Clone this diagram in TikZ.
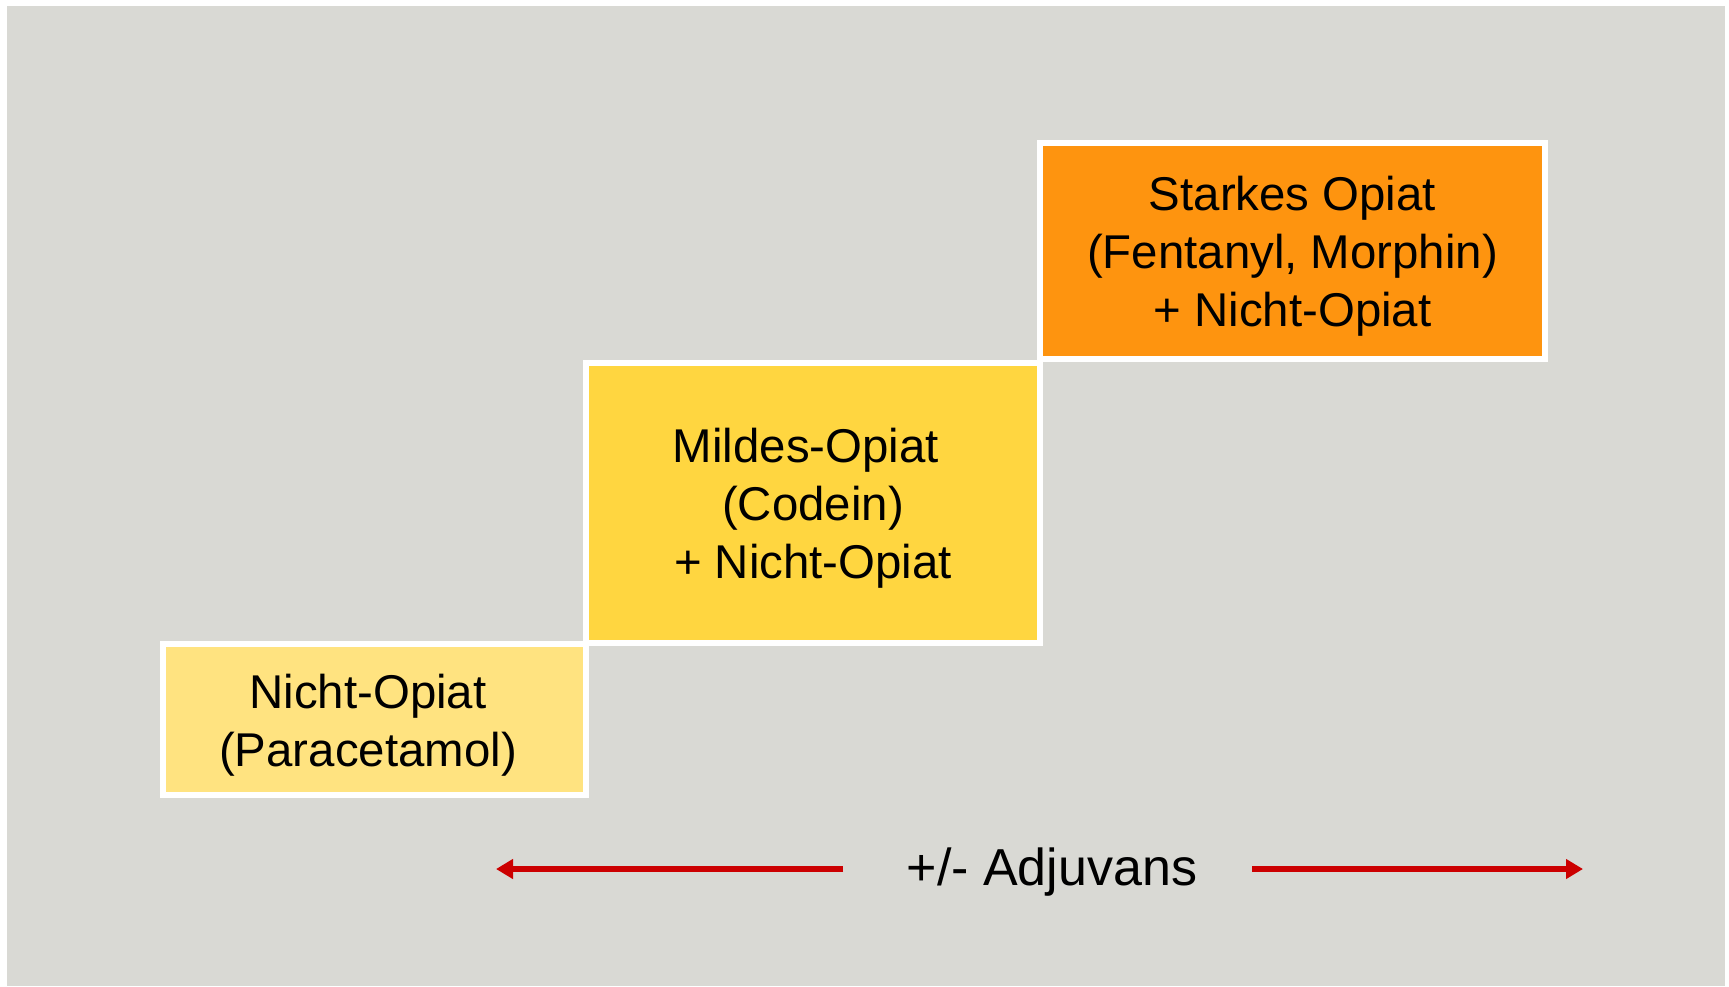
\documentclass[tikz,border=0pt]{standalone}
\usepackage{fontspec}
\setmainfont{Liberation Sans}
\usetikzlibrary{arrows.meta}
\definecolor{panel}{RGB}{217,217,212}
\definecolor{stepone}{RGB}{255,227,128}
\definecolor{steptwo}{RGB}{255,214,64}
\definecolor{stepthree}{RGB}{254,148,15}
\definecolor{arrowred}{RGB}{204,0,0}
\tikzset{
  stairbox/.style={draw=white, line width=6pt, inner sep=0pt},
  boxtext/.style={inner sep=0pt, align=center,
    font=\fontsize{47.4}{58}\selectfont, text=black},
  spanarrow/.style={draw=arrowred, line width=6pt,
    -{Triangle[length=17pt,width=19pt]}},
}
\begin{document}
\begin{tikzpicture}[x=1pt,y=-1pt]
  % canvas and grey panel
  \useasboundingbox (0,0) rectangle (1729,986);
  \fill[white] (0,0) rectangle (1729,986);
  \fill[panel] (7,6) rectangle (1725,986);

  % the three steps
  \node[stairbox, fill=stepone, minimum width=423pt, minimum height=151pt]
    (s1) at (374.5,719.5) {};
  \node[stairbox, fill=steptwo, minimum width=454pt, minimum height=280pt]
    (s2) at (813,503) {};
  \node[stairbox, fill=stepthree, minimum width=505pt, minimum height=216pt]
    (s3) at (1292.5,251) {};

  % step texts
  \node[boxtext] (t1) at ([shift={(-6.5,5.5)}]s1.center)
    {Nicht-Opiat\\(Paracetamol)};
  \node[boxtext] (t2) at ([shift={(0,5.5)}]s2.center)
    {Mildes-Opiat\hspace*{14pt}\\(Codein)\\+ Nicht-Opiat};
  \node[boxtext] (t3) at ([shift={(0,5.5)}]s3.center)
    {Starkes Opiat\\(Fentanyl, Morphin)\\+ Nicht-Opiat};

  % adjuvant label with arrows to both sides
  \node[anchor=base, font=\fontsize{52}{62}\selectfont, inner sep=0pt]
    (adj) at (1052,885) {+/- Adjuvans};
  \coordinate (lstart) at (843,869);
  \coordinate (lend) at (496,869);
  \coordinate (rstart) at (1252,869);
  \coordinate (rend) at (1583,869);
  \draw[spanarrow] (lstart) -- (lend);
  \draw[spanarrow] (rstart) -- (rend);
\end{tikzpicture}
\end{document}
